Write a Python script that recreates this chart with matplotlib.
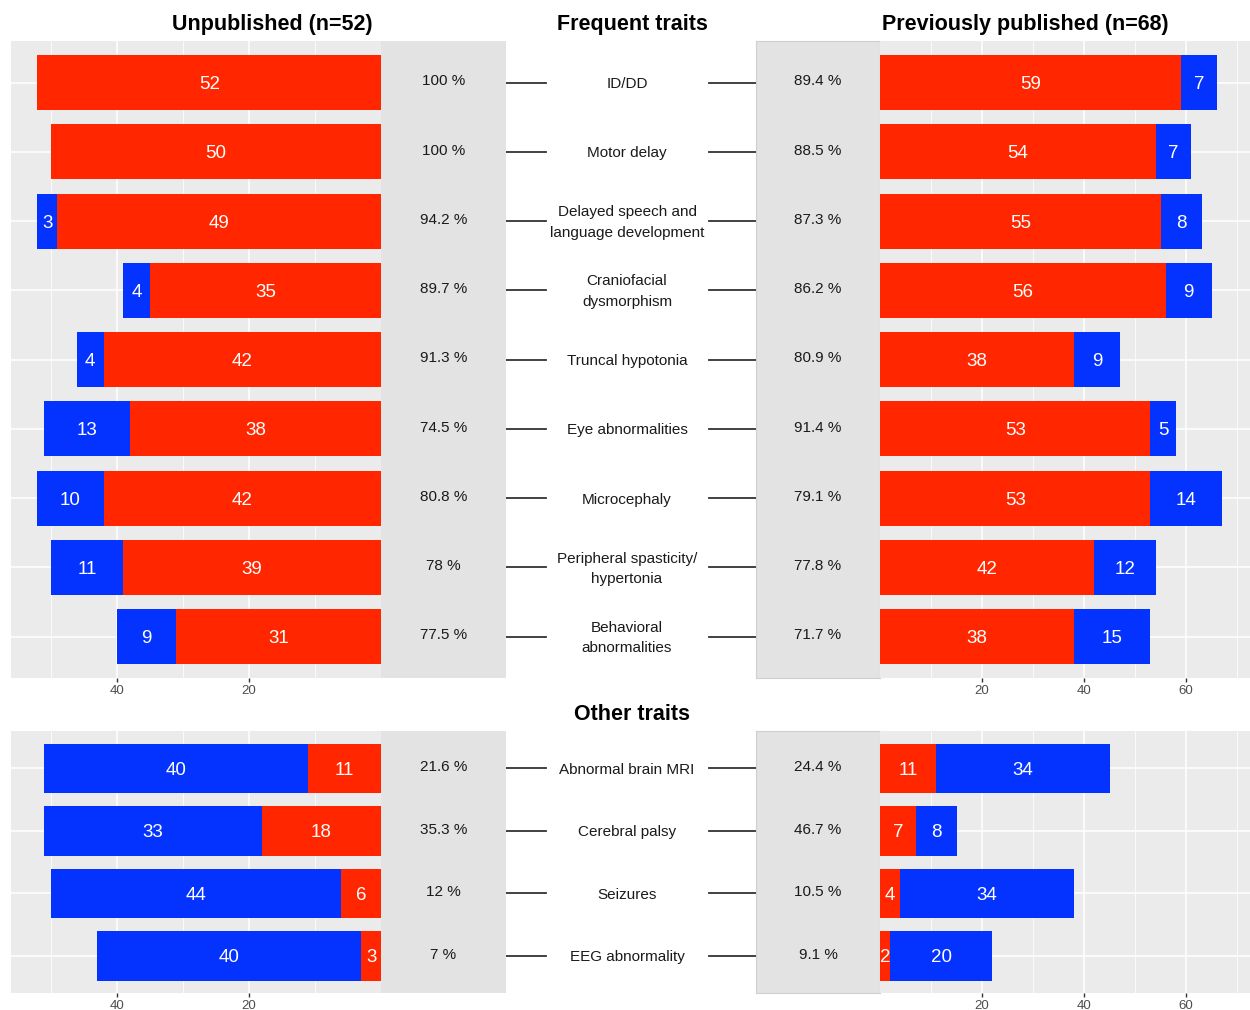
import matplotlib
matplotlib.use("Agg")
import matplotlib.pyplot as plt

plt.rcParams['font.family'] = ['Liberation Sans', 'DejaVu Sans']

W, H = 1250, 1010
RED = '#FF2600'
BLUE = '#0433FF'
PANEL_BG = '#EBEBEB'
PCT_BG = '#E3E3E3'

# ---------------- data ----------------
freq_traits = ["ID/DD", "Motor delay", "Delayed speech and\nlanguage development",
               "Craniofacial\ndysmorphism", "Truncal hypotonia", "Eye abnormalities",
               "Microcephaly", "Peripheral spasticity/\nhypertonia", "Behavioral\nabnormalities"]
freq_unpub_yes = [52, 50, 49, 35, 42, 38, 42, 39, 31]
freq_unpub_no = [0, 0, 3, 4, 4, 13, 10, 11, 9]
freq_unpub_pct = ["100 %", "100 %", "94.2 %", "89.7 %", "91.3 %", "74.5 %", "80.8 %", "78 %", "77.5 %"]
freq_pub_yes = [59, 54, 55, 56, 38, 53, 53, 42, 38]
freq_pub_no = [7, 7, 8, 9, 9, 5, 14, 12, 15]
freq_pub_pct = ["89.4 %", "88.5 %", "87.3 %", "86.2 %", "80.9 %", "91.4 %", "79.1 %", "77.8 %", "71.7 %"]

other_traits = ["Abnormal brain MRI", "Cerebral palsy", "Seizures", "EEG abnormality"]
other_unpub_yes = [11, 18, 6, 3]
other_unpub_no = [40, 33, 44, 40]
other_unpub_pct = ["21.6 %", "35.3 %", "12 %", "7 %"]
other_pub_yes = [11, 7, 4, 2]
other_pub_no = [34, 8, 34, 20]
other_pub_pct = ["24.4 %", "46.7 %", "10.5 %", "9.1 %"]

left_ticks = [20, 40]
left_minor = [10, 30, 50]
right_ticks = [20, 40, 60]
right_minor = [10, 30, 50, 70]

fig = plt.figure(figsize=(W / 100, H / 100), dpi=100)


def ax_at(x0, x1, y0, y1):
    return fig.add_axes([x0 / W, 1 - y1 / H, (x1 - x0) / W, (y1 - y0) / H])


def bar_panel(ax, yes, no, xmax, ticks, minor, reverse):
    n = len(yes)
    ys = list(range(n))
    ax.set_facecolor(PANEL_BG)
    for s in ax.spines.values():
        s.set_visible(False)
    ax.set_axisbelow(True)
    for t in ticks:
        ax.axvline(t, color='white', lw=1.1, zorder=0)
    for t in minor:
        ax.axvline(t, color='white', lw=0.55, zorder=0)
    for y in ys:
        ax.axhline(y, color='white', lw=1.1, zorder=0)
    ax.barh(ys, yes, height=0.795, color=RED, zorder=2)
    ax.barh(ys, no, left=yes, height=0.795, color=BLUE, zorder=2)
    for y, a, b in zip(ys, yes, no):
        if a > 0:
            ax.text(a / 2, y, str(a), ha='center', va='center_baseline', color='white',
                    fontsize=13.5, zorder=3)
        if b > 0:
            ax.text(a + b / 2, y, str(b), ha='center', va='center_baseline', color='white',
                    fontsize=13.5, zorder=3)
    ax.set_ylim(n - 1 + 0.6, -0.6)
    if reverse:
        ax.set_xlim(xmax, 0)
    else:
        ax.set_xlim(0, xmax)
    ax.set_xticks(ticks)
    ax.set_xticklabels([str(t) for t in ticks])
    ax.set_yticks([])
    ax.tick_params(axis='x', length=3, width=1, color='#333333', labelsize=9.5,
                   labelcolor='#4D4D4D', pad=2)


def pct_panel(ax, pcts, border):
    n = len(pcts)
    ax.set_facecolor(PCT_BG)
    for s in ax.spines.values():
        s.set_visible(border)
        s.set_color('#CFCFCF')
        s.set_linewidth(0.8)
    for i, p in enumerate(pcts):
        ax.text(0.5, i - 0.04, p, ha='center', va='center_baseline', fontsize=11, color='#1A1A1A')
    ax.set_xlim(0, 1)
    ax.set_ylim(n - 1 + 0.6, -0.6)
    ax.set_xticks([])
    ax.set_yticks([])


def label_panel(ax, labels):
    n = len(labels)
    ax.set_facecolor('white')
    for s in ax.spines.values():
        s.set_visible(False)
    for i, lab in enumerate(labels):
        ax.plot([0, 40], [i, i], color='#333333', lw=1.3)
        ax.plot([203, 250], [i, i], color='#333333', lw=1.3)
        if "\n" in lab:
            ax.text(121, i + 0.02, lab, ha='center', va='center', fontsize=11,
                    color='#1A1A1A', linespacing=1.6)
        else:
            ax.text(121, i, lab, ha='center', va='center_baseline', fontsize=11,
                    color='#1A1A1A')
    ax.set_xlim(0, 250)
    ax.set_ylim(n - 1 + 0.6, -0.6)
    ax.set_xticks([])
    ax.set_yticks([])


def row(y0, y1, labels, uy, un, upct, py, pn, ppct):
    a = ax_at(11, 381, y0, y1)
    bar_panel(a, uy, un, 56, left_ticks, left_minor, True)
    b = ax_at(381, 506, y0, y1)
    pct_panel(b, upct, False)
    c = ax_at(506, 756, y0, y1)
    label_panel(c, labels)
    d = ax_at(756, 880, y0, y1)
    pct_panel(d, ppct, True)
    e = ax_at(880, 1250, y0, y1)
    bar_panel(e, py, pn, 72.5, right_ticks, right_minor, False)


row(41, 678.3, freq_traits, freq_unpub_yes, freq_unpub_no, freq_unpub_pct,
    freq_pub_yes, freq_pub_no, freq_pub_pct)
row(731, 993.3, other_traits, other_unpub_yes, other_unpub_no, other_unpub_pct,
    other_pub_yes, other_pub_no, other_pub_pct)

title_kw = dict(ha='center', va='center_baseline', fontsize=15.5, fontweight='bold', color='black')
fig.text(272 / W, 1 - 22 / H, "Unpublished (n=52)", **title_kw)
fig.text(632 / W, 1 - 22 / H, "Frequent traits", **title_kw)
fig.text(1025 / W, 1 - 22 / H, "Previously published (n=68)", **title_kw)
fig.text(632 / W, 1 - 712 / H, "Other traits", **title_kw)

fig.savefig("out.png", dpi=100, facecolor='white')
